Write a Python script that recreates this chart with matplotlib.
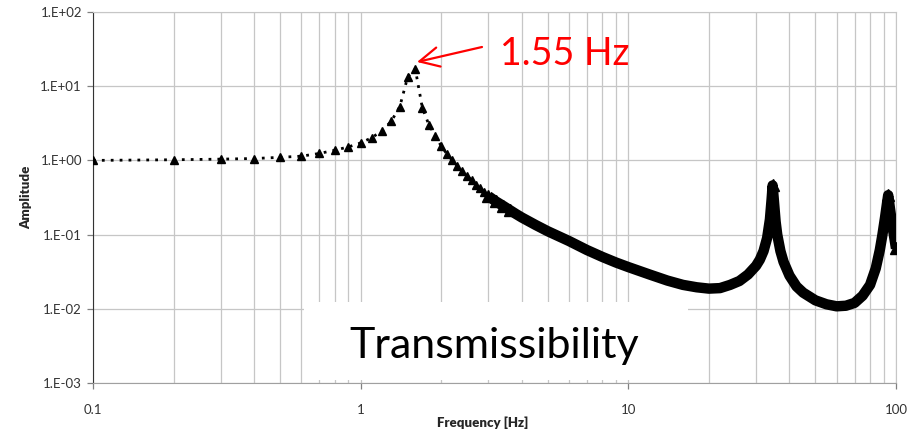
import numpy as np
import matplotlib
matplotlib.use("Agg")
import matplotlib.pyplot as plt
from matplotlib.patches import Rectangle
from matplotlib.ticker import FixedLocator, FuncFormatter, NullFormatter

plt.rcParams["font.family"] = ["Lato", "DejaVu Sans"]

# frequencies read at 0.1 Hz steps (markers still separate here)
freq_steps = [0.1, 0.2, 0.3, 0.4, 0.5, 0.6, 0.7, 0.8, 0.9, 1.0,
              1.1, 1.2, 1.3, 1.4, 1.5, 1.6, 1.7, 1.8, 1.9, 2.0,
              2.1, 2.2, 2.3, 2.4, 2.5, 2.6, 2.7, 2.8, 2.9, 3.0]
amp_steps = [1.00, 1.02, 1.04, 1.06, 1.10, 1.14, 1.24, 1.37, 1.52, 1.72,
             2.02, 2.50, 3.35, 5.3, 13.5, 17.0, 5.1, 3.0, 2.15, 1.56,
             1.22, 1.00, 0.84, 0.71, 0.62, 0.54, 0.47, 0.42, 0.37, 0.33]

# above 3 Hz the markers merge into one thick band
freq_dense = [3.2, 3.4, 3.6, 3.8, 4, 4.5, 5, 6, 7, 8, 9, 10, 12, 14, 16, 18, 20, 22, 24, 26, 28,
              30, 31, 32, 33, 33.8, 34.3, 34.6, 35, 35.5, 36, 37, 38, 40, 42.5, 45,
              50, 55, 60, 65, 70, 75, 80, 84, 87, 89, 91, 92.5, 93.5, 95, 97, 100]
amp_dense = [0.28, 0.245, 0.215, 0.19, 0.17, 0.135, 0.111, 0.082, 0.062, 0.050, 0.042, 0.0365, 0.029,
             0.024, 0.021, 0.0195, 0.0187, 0.0190, 0.021, 0.0237, 0.029,
             0.038, 0.046, 0.060, 0.090, 0.16, 0.30, 0.46, 0.28, 0.15, 0.10, 0.060,
             0.043, 0.028, 0.020, 0.0165,
             0.0130, 0.0115, 0.0108, 0.0110, 0.0120, 0.015, 0.021, 0.035, 0.062,
             0.10, 0.17, 0.26, 0.34, 0.22, 0.13, 0.065]

x_ticks = [0.1, 1, 10, 100]
x_ticklabels = ["0.1", "1", "10", "100"]
y_ticks = [1e-3, 1e-2, 1e-1, 1e0, 1e1, 1e2]

grid_col = "#c6c6c6"

fig = plt.figure(figsize=(9.08, 4.36), dpi=100)
ax = fig.add_axes([93 / 908, 1 - 383 / 436, 803 / 908, 371 / 436])
ax.set_xscale("log")
ax.set_yscale("log")
ax.set_xlim(0.1, 100)
ax.set_ylim(1e-3, 1e2)

# sparse part: dotted line with triangles
ax.plot(freq_steps, amp_steps, color="black", lw=2, ls=(0, (1, 2.2)),
        marker="^", ms=6, zorder=4)
# dense part: thick band, triangles only where the tips show
f_band = [freq_steps[-1]] + freq_dense
a_band = [amp_steps[-1]] + amp_dense
tips = [0, 1, 2, 3, f_band.index(34.6), f_band.index(93.5), len(f_band) - 1]
ax.plot(f_band, a_band, color="black", lw=7.5, solid_joinstyle="round",
        solid_capstyle="butt", marker="^", ms=8, markevery=tips, zorder=4)

ax.xaxis.set_major_locator(FixedLocator(x_ticks))
ax.xaxis.set_major_formatter(FuncFormatter(lambda v, p: x_ticklabels[x_ticks.index(v)] if v in x_ticks else ""))
ax.xaxis.set_minor_formatter(NullFormatter())
ax.yaxis.set_major_locator(FixedLocator(y_ticks))
ax.yaxis.set_major_formatter(FuncFormatter(lambda v, p: "1.E%+03d" % int(round(np.log10(v)))))
ax.yaxis.set_minor_locator(FixedLocator([]))

ax.grid(True, which="major", axis="both", color=grid_col, lw=0.9)
ax.grid(True, which="minor", axis="x", color=grid_col, lw=0.9)
ax.set_axisbelow(True)

ax.tick_params(axis="both", which="major", direction="out", length=4, width=0.9,
               colors="#808080", labelcolor="#333333", labelsize=9.5)
ax.tick_params(axis="x", which="major", pad=11)
ax.tick_params(axis="x", which="minor", length=0)
ax.tick_params(axis="y", which="major", pad=4)

ax.spines["left"].set_color("#333333")
ax.spines["bottom"].set_color("#a0a0a0")
ax.spines["top"].set_color(grid_col)
ax.spines["right"].set_color(grid_col)

ax.set_ylabel("Amplitude", fontsize=9.5, fontweight="heavy", color="#262626", labelpad=6)
ax.set_xlabel("Frequency [Hz]", fontsize=9.5, fontweight="heavy", color="#262626", labelpad=3)
ax.xaxis.set_label_coords(0.485, -0.09)

# white box covering grid behind the caption
ax.add_patch(Rectangle((0.2628, 0.008), 0.4782, 0.21, transform=ax.transAxes,
                       facecolor="white", edgecolor="none", zorder=2))
fig.text(494 / 908, 1 - 358 / 436, "Transmissibility", fontsize=31,
         ha="center", va="baseline", color="black")

# peak annotation
ax.annotate("", xy=(417 / 908, 1 - 62 / 436), xycoords="figure fraction",
            xytext=(482 / 908, 1 - 47 / 436), textcoords="figure fraction",
            arrowprops=dict(arrowstyle="->,head_length=0.7,head_width=0.35",
                            color="red", lw=1.6, mutation_scale=20,
                            shrinkA=0, shrinkB=0))
fig.text(500 / 908, 1 - 65 / 436, "1.55 Hz", fontsize=27, color="red",
         ha="left", va="baseline")

fig.savefig("out.png", dpi=100)
